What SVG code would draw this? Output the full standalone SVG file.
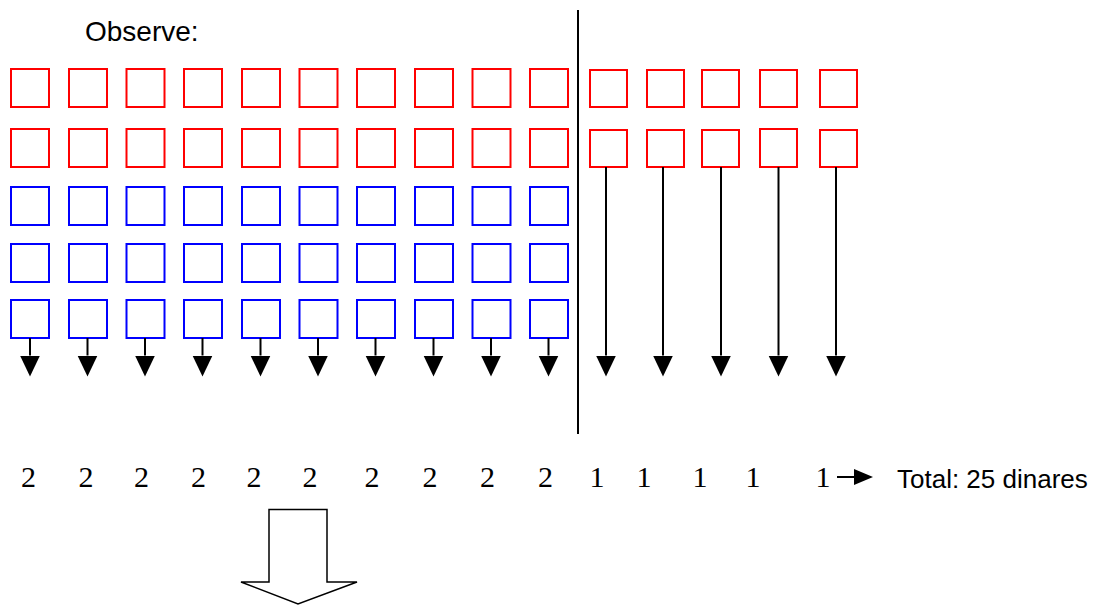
<svg xmlns="http://www.w3.org/2000/svg" width="1093" height="605" viewBox="0 0 1093 605">
<style>
.r{fill:none;stroke:#ff0000;stroke-width:2}
.b{fill:none;stroke:#0000ff;stroke-width:2}
.c{stroke:#000;stroke-width:2;fill:none}
.s{font-family:"Liberation Sans",Arial,sans-serif;fill:#000}
.n{font-family:"Liberation Serif","Times New Roman",serif;font-size:30px;fill:#000;text-anchor:middle}
</style>
<defs>
<marker id="ah" markerUnits="userSpaceOnUse" markerWidth="22" markerHeight="22" viewBox="0 0 22 22" refX="11" refY="0" orient="0"><path d="M1,0 L21,0 L11,21 Z" fill="#000"/></marker>
<marker id="ar" markerUnits="userSpaceOnUse" markerWidth="20" markerHeight="18" viewBox="0 0 20 18" refX="0" refY="9" orient="0"><path d="M0,1 L19,9 L0,17 Z" fill="#000"/></marker>
</defs>
<text id="title" class="s" x="85" y="41" font-size="28">Observe:</text>
<g id="divider"><line x1="578" y1="10" x2="578" y2="434" stroke="#000" stroke-width="2"/></g>
<g id="left-grid">
<g id="r1c1"><rect class="r" x="11" y="69" width="38" height="38"/></g>
<g id="r1c2"><rect class="r" x="69" y="69" width="38" height="38"/></g>
<g id="r1c3"><rect class="r" x="126.5" y="69" width="38" height="38"/></g>
<g id="r1c4"><rect class="r" x="184" y="69" width="38" height="38"/></g>
<g id="r1c5"><rect class="r" x="242" y="69" width="38" height="38"/></g>
<g id="r1c6"><rect class="r" x="299.5" y="69" width="38" height="38"/></g>
<g id="r1c7"><rect class="r" x="357" y="69" width="38" height="38"/></g>
<g id="r1c8"><rect class="r" x="415" y="69" width="38" height="38"/></g>
<g id="r1c9"><rect class="r" x="472.5" y="69" width="38" height="38"/></g>
<g id="r1c10"><rect class="r" x="530" y="69" width="38" height="38"/></g>
<g id="r2c1"><rect class="r" x="11" y="129" width="38" height="38"/></g>
<g id="r2c2"><rect class="r" x="69" y="129" width="38" height="38"/></g>
<g id="r2c3"><rect class="r" x="126.5" y="129" width="38" height="38"/></g>
<g id="r2c4"><rect class="r" x="184" y="129" width="38" height="38"/></g>
<g id="r2c5"><rect class="r" x="242" y="129" width="38" height="38"/></g>
<g id="r2c6"><rect class="r" x="299.5" y="129" width="38" height="38"/></g>
<g id="r2c7"><rect class="r" x="357" y="129" width="38" height="38"/></g>
<g id="r2c8"><rect class="r" x="415" y="129" width="38" height="38"/></g>
<g id="r2c9"><rect class="r" x="472.5" y="129" width="38" height="38"/></g>
<g id="r2c10"><rect class="r" x="530" y="129" width="38" height="38"/></g>
<g id="r3c1"><rect class="b" x="11" y="187" width="38" height="38"/></g>
<g id="r3c2"><rect class="b" x="69" y="187" width="38" height="38"/></g>
<g id="r3c3"><rect class="b" x="126.5" y="187" width="38" height="38"/></g>
<g id="r3c4"><rect class="b" x="184" y="187" width="38" height="38"/></g>
<g id="r3c5"><rect class="b" x="242" y="187" width="38" height="38"/></g>
<g id="r3c6"><rect class="b" x="299.5" y="187" width="38" height="38"/></g>
<g id="r3c7"><rect class="b" x="357" y="187" width="38" height="38"/></g>
<g id="r3c8"><rect class="b" x="415" y="187" width="38" height="38"/></g>
<g id="r3c9"><rect class="b" x="472.5" y="187" width="38" height="38"/></g>
<g id="r3c10"><rect class="b" x="530" y="187" width="38" height="38"/></g>
<g id="r4c1"><rect class="b" x="11" y="244" width="38" height="38"/></g>
<g id="r4c2"><rect class="b" x="69" y="244" width="38" height="38"/></g>
<g id="r4c3"><rect class="b" x="126.5" y="244" width="38" height="38"/></g>
<g id="r4c4"><rect class="b" x="184" y="244" width="38" height="38"/></g>
<g id="r4c5"><rect class="b" x="242" y="244" width="38" height="38"/></g>
<g id="r4c6"><rect class="b" x="299.5" y="244" width="38" height="38"/></g>
<g id="r4c7"><rect class="b" x="357" y="244" width="38" height="38"/></g>
<g id="r4c8"><rect class="b" x="415" y="244" width="38" height="38"/></g>
<g id="r4c9"><rect class="b" x="472.5" y="244" width="38" height="38"/></g>
<g id="r4c10"><rect class="b" x="530" y="244" width="38" height="38"/></g>
<g id="r5c1"><rect class="b" x="11" y="300" width="38" height="38"/></g>
<g id="r5c2"><rect class="b" x="69" y="300" width="38" height="38"/></g>
<g id="r5c3"><rect class="b" x="126.5" y="300" width="38" height="38"/></g>
<g id="r5c4"><rect class="b" x="184" y="300" width="38" height="38"/></g>
<g id="r5c5"><rect class="b" x="242" y="300" width="38" height="38"/></g>
<g id="r5c6"><rect class="b" x="299.5" y="300" width="38" height="38"/></g>
<g id="r5c7"><rect class="b" x="357" y="300" width="38" height="38"/></g>
<g id="r5c8"><rect class="b" x="415" y="300" width="38" height="38"/></g>
<g id="r5c9"><rect class="b" x="472.5" y="300" width="38" height="38"/></g>
<g id="r5c10"><rect class="b" x="530" y="300" width="38" height="38"/></g>
</g>
<g id="right-grid">
<g id="R1c1"><rect class="r" x="590" y="70" width="37" height="37"/></g>
<g id="R1c2"><rect class="r" x="647" y="70" width="37" height="37"/></g>
<g id="R1c3"><rect class="r" x="702" y="70" width="37" height="37"/></g>
<g id="R1c4"><rect class="r" x="760" y="70" width="37" height="37"/></g>
<g id="R1c5"><rect class="r" x="820" y="70" width="37" height="37"/></g>
<g id="R2c1"><rect class="r" x="590" y="130" width="37" height="37"/></g>
<g id="R2c2"><rect class="r" x="647" y="130" width="37" height="37"/></g>
<g id="R2c3"><rect class="r" x="702" y="130" width="37" height="37"/></g>
<g id="R2c4"><rect class="r" x="760" y="129" width="37" height="38"/></g>
<g id="R2c5"><rect class="r" x="820" y="130" width="37" height="37"/></g>
</g>
<g id="connectors" class="c">
<line x1="30" y1="338" x2="30" y2="355.5" marker-end="url(#ah)"/>
<line x1="87.5" y1="338" x2="87.5" y2="355.5" marker-end="url(#ah)"/>
<line x1="145" y1="338" x2="145" y2="355.5" marker-end="url(#ah)"/>
<line x1="202.5" y1="338" x2="202.5" y2="355.5" marker-end="url(#ah)"/>
<line x1="260.5" y1="338" x2="260.5" y2="355.5" marker-end="url(#ah)"/>
<line x1="318" y1="338" x2="318" y2="355.5" marker-end="url(#ah)"/>
<line x1="375.5" y1="338" x2="375.5" y2="355.5" marker-end="url(#ah)"/>
<line x1="433.5" y1="338" x2="433.5" y2="355.5" marker-end="url(#ah)"/>
<line x1="491" y1="338" x2="491" y2="355.5" marker-end="url(#ah)"/>
<line x1="548.5" y1="338" x2="548.5" y2="355.5" marker-end="url(#ah)"/>
<line x1="606" y1="167" x2="606" y2="355.5" marker-end="url(#ah)"/>
<line x1="663" y1="167" x2="663" y2="355.5" marker-end="url(#ah)"/>
<line x1="721" y1="167" x2="721" y2="355.5" marker-end="url(#ah)"/>
<line x1="778.5" y1="167" x2="778.5" y2="355.5" marker-end="url(#ah)"/>
<line x1="836" y1="167" x2="836" y2="355.5" marker-end="url(#ah)"/>
<line x1="837" y1="477" x2="854" y2="477" marker-end="url(#ar)"/>
</g>
<g id="values">
<text class="n" x="28.5" y="487">2</text>
<text class="n" x="86" y="487">2</text>
<text class="n" x="141.5" y="487">2</text>
<text class="n" x="198.5" y="487">2</text>
<text class="n" x="254" y="487">2</text>
<text class="n" x="310" y="487">2</text>
<text class="n" x="372" y="487">2</text>
<text class="n" x="430" y="487">2</text>
<text class="n" x="487.5" y="487">2</text>
<text class="n" x="545.5" y="487">2</text>
<text class="n" x="597" y="487">1</text>
<text class="n" x="644" y="487">1</text>
<text class="n" x="700" y="487">1</text>
<text class="n" x="753" y="487">1</text>
<text class="n" x="823" y="487">1</text>
</g>
<text id="total" class="s" x="897" y="488" font-size="26">Total: 25 dinares</text>
<g id="big-arrow"><path d="M269,509.5 L327,509.5 L327,582 L357,582 L298,604 L241,582 L269,582 Z" fill="#fff" stroke="#000" stroke-width="1.5"/></g>
</svg>
